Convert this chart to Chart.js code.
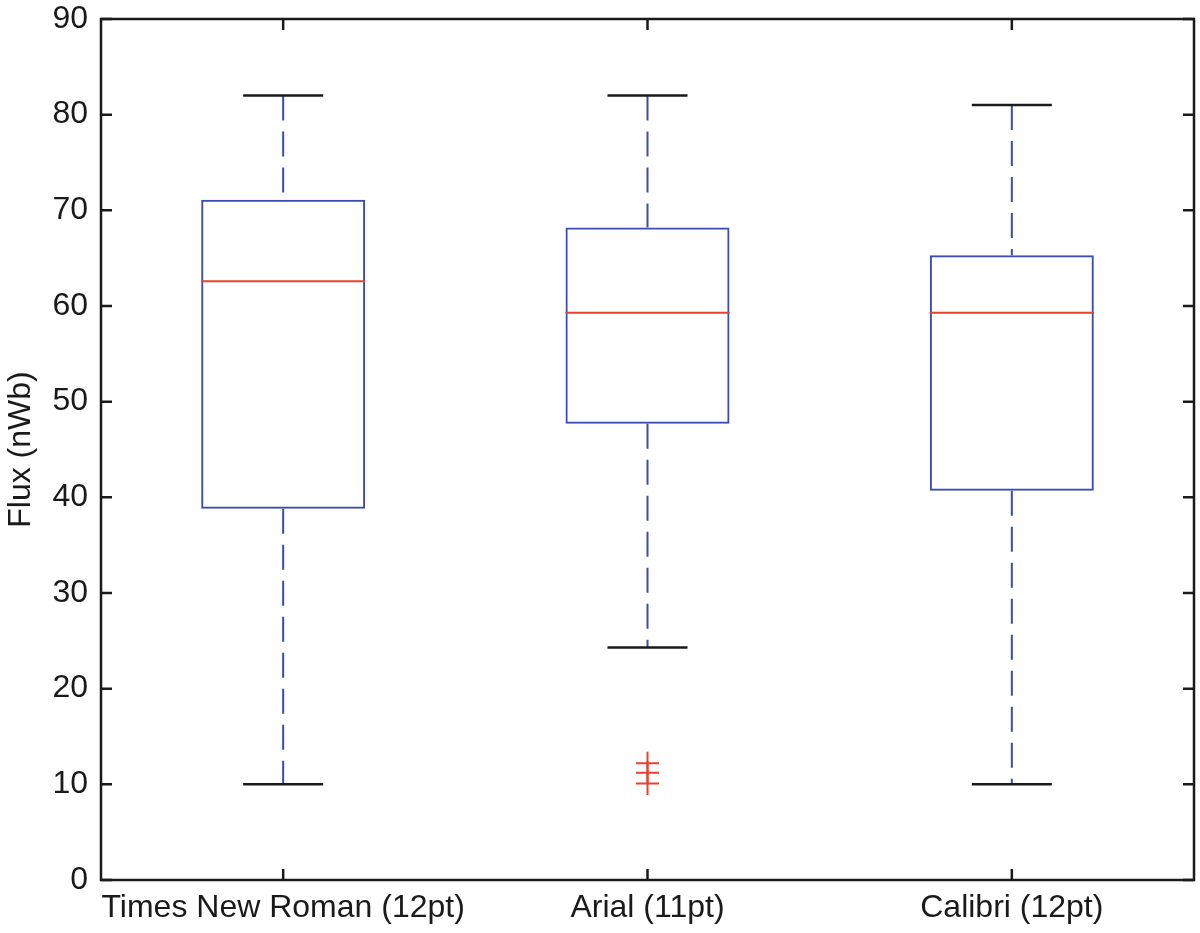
<!DOCTYPE html>
<html>
<head>
<meta charset="utf-8">
<script src="https://cdn.jsdelivr.net/npm/chart.js@4.4.1/dist/chart.umd.min.js"></script>
<style>
  html, body { margin: 0; padding: 0; background: #fff; }
  #wrap { width: 1200px; height: 933px; }
</style>
</head>
<body>
<div id="wrap"><canvas id="fluxChart"></canvas></div>
<script>
// Data untuk boxplot
const kategori = ['Times New Roman (12pt)', 'Arial (11pt)', 'Calibri (12pt)'];
const kumisAtas = [82, 82, 81];
const kuartil3 = [71.1, 68.2, 65.3];
const median = [62.6, 59.3, 59.3];
const kuartil1 = [38.8, 47.7, 40.7];
const kumisBawah = [10, 24.3, 10];
const pencilan = [[], [12.2, 11.2, 10.1], []];
const tickY = [0, 10, 20, 30, 40, 50, 60, 70, 80, 90];

const biru = '#3b4cb0';
const merah = '#e8412c';
const hitam = '#1a1a1a';
const fontUtama = 'Arial, "Liberation Sans", sans-serif';

// Garis kumis putus-putus, satu dataset per kotak
const kumis = [];
kategori.forEach(function(k, i) {
    kumis.push({
        type: 'line',
        data: [{x: k, y: kumisAtas[i]}, {x: k, y: kuartil3[i]}],
        borderColor: biru,
        borderWidth: 2,
        borderDash: [25, 11],
        pointRadius: 0,
        order: 4
    });
    kumis.push({
        type: 'line',
        data: [{x: k, y: kuartil1[i]}, {x: k, y: kumisBawah[i]}],
        borderColor: biru,
        borderWidth: 2,
        borderDash: [25, 11],
        pointRadius: 0,
        order: 4
    });
});

const titikPencilan = [];
pencilan.forEach(function(arr, i) {
    arr.forEach(function(v) { titikPencilan.push({x: kategori[i], y: v}); });
});

// Bingkai dan tick ke dalam ala MATLAB
const bingkaiMatlab = {
    id: 'bingkaiMatlab',
    afterDraw: function(chart) {
        const ctx = chart.ctx;
        const a = chart.chartArea;
        const sx = chart.scales.x;
        const sy = chart.scales.y;
        const len = 11;
        ctx.save();
        ctx.strokeStyle = hitam;
        ctx.lineWidth = 2.5;
        ctx.beginPath();
        sy.ticks.forEach(function(t, i) {
            const y = sy.getPixelForTick(i);
            ctx.moveTo(a.left, y); ctx.lineTo(a.left + len, y);
            ctx.moveTo(a.right, y); ctx.lineTo(a.right - len, y);
        });
        sx.ticks.forEach(function(t, i) {
            const x = sx.getPixelForTick(i);
            ctx.moveTo(x, a.bottom); ctx.lineTo(x, a.bottom - len);
            ctx.moveTo(x, a.top); ctx.lineTo(x, a.top + len);
        });
        ctx.stroke();
        ctx.strokeRect(a.left, a.top, a.right - a.left, a.bottom - a.top);
        ctx.restore();
    }
};

function tanpaPadding(scale) {
    scale.paddingLeft = 0;
    scale.paddingRight = 0;
    scale.paddingTop = 0;
    scale.paddingBottom = 0;
}

const fluxChart = new Chart(
    document.getElementById('fluxChart'),
    {
        type: 'bar',
        data: {
            labels: kategori,
            datasets: [
                {
                    label: 'Kotak',
                    data: kuartil1.map(function(v, i) { return [v, kuartil3[i]]; }),
                    backgroundColor: 'rgba(255,255,255,0)',
                    borderColor: biru,
                    borderWidth: 2,
                    borderSkipped: false,
                    barPercentage: 0.45,
                    categoryPercentage: 1,
                    order: 5
                },
                ...kumis,
                {
                    type: 'line',
                    label: 'Batas atas',
                    data: kumisAtas,
                    showLine: false,
                    pointStyle: 'line',
                    pointRadius: 40,
                    pointBorderColor: hitam,
                    pointBorderWidth: 2.5,
                    order: 3
                },
                {
                    type: 'line',
                    label: 'Batas bawah',
                    data: kumisBawah,
                    showLine: false,
                    pointStyle: 'line',
                    pointRadius: 40,
                    pointBorderColor: hitam,
                    pointBorderWidth: 2.5,
                    order: 3
                },
                {
                    type: 'line',
                    label: 'Median',
                    data: median,
                    showLine: false,
                    pointStyle: 'line',
                    pointRadius: 82,
                    pointBorderColor: merah,
                    pointBorderWidth: 2,
                    order: 1
                },
                {
                    type: 'line',
                    label: 'Pencilan',
                    data: titikPencilan,
                    showLine: false,
                    pointStyle: 'cross',
                    pointRadius: 11.5,
                    pointBorderColor: merah,
                    pointBorderWidth: 2,
                    order: 0
                }
            ]
        },
        options: {
            responsive: true,
            maintainAspectRatio: false,
            animation: false,
            events: [],
            layout: {
                autoPadding: false,
                padding: { left: 0, right: 6, top: 19, bottom: 0 }
            },
            plugins: {
                legend: { display: false },
                tooltip: { enabled: false }
            },
            scales: {
                x: {
                    type: 'category',
                    offset: true,
                    grid: { display: false, drawTicks: false },
                    border: { display: false },
                    ticks: {
                        color: '#1a1a1a',
                        padding: 9,
                        maxRotation: 0,
                        autoSkip: false,
                        font: { family: fontUtama, size: 32 }
                    },
                    afterFit: function(scale) {
                        scale.height = 53;
                        tanpaPadding(scale);
                    }
                },
                y: {
                    min: 0,
                    max: 90,
                    afterBuildTicks: function(scale) {
                        scale.ticks = tickY.map(function(v) { return { value: v }; });
                    },
                    grid: { display: false, drawTicks: false },
                    border: { display: false },
                    ticks: {
                        color: '#1a1a1a',
                        padding: 13,
                        font: { family: fontUtama, size: 32 }
                    },
                    title: {
                        display: true,
                        text: 'Flux (nWb)',
                        color: '#1a1a1a',
                        padding: { top: 2, bottom: 0 },
                        font: { family: fontUtama, size: 32 }
                    },
                    afterFit: function(scale) {
                        scale.width = 101;
                        tanpaPadding(scale);
                    }
                }
            }
        },
        plugins: [bingkaiMatlab]
    }
);
</script>
</body>
</html>
